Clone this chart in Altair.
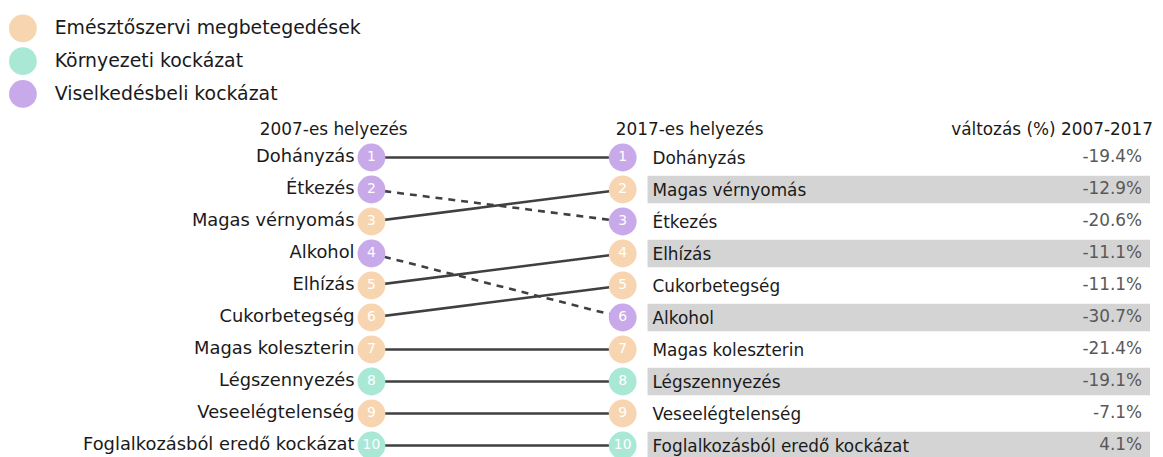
import altair as alt
import pandas as pd

# ---- data ----
risks = ["Dohányzás", "Étkezés", "Magas vérnyomás", "Alkohol", "Elhízás",
         "Cukorbetegség", "Magas koleszterin", "Légszennyezés",
         "Veseelégtelenség", "Foglalkozásból eredő kockázat"]
rank_2007 = [1, 2, 3, 4, 5, 6, 7, 8, 9, 10]
rank_2017 = [1, 3, 2, 6, 4, 5, 7, 8, 9, 10]
groups = ["Viselkedésbeli kockázat", "Viselkedésbeli kockázat", "Emésztőszervi megbetegedések",
          "Viselkedésbeli kockázat", "Emésztőszervi megbetegedések", "Emésztőszervi megbetegedések",
          "Emésztőszervi megbetegedések", "Környezeti kockázat", "Emésztőszervi megbetegedések",
          "Környezeti kockázat"]
change_pct = [-19.4, -20.6, -12.9, -30.7, -11.1, -11.1, -21.4, -19.1, -7.1, 4.1]

group_names = ["Emésztőszervi megbetegedések", "Környezeti kockázat", "Viselkedésbeli kockázat"]
group_colors = ["#F8D5B1", "#AAE8D6", "#C8A9E9"]

header_2007 = "2007-es helyezés"
header_2017 = "2017-es helyezés"
header_change = "változás (%) 2007-2017"

# ---- tables ----
rows = []
for n, r7, r17, g, c in zip(risks, rank_2007, rank_2017, groups, change_pct):
    trend = "romlott" if r17 > r7 else "javult"
    rows.append(dict(name=n, year=2007, rank=r7, group=g, trend=trend, change=c))
    rows.append(dict(name=n, year=2017, rank=r17, group=g, trend=trend, change=c))
df = pd.DataFrame(rows)
df["change_label"] = df["change"].map(lambda v: f"{v:.1f}%")

W, H = 1155, 449
FONT = "DejaVu Sans"
TXT = "#1a1a1a"

xs = alt.Scale(domain=[2007, 2017], range=[366, 619])
ys = alt.Scale(domain=[1, 10], range=[149, 439])
X = alt.X("year:Q", scale=xs, axis=None)
Y = alt.Y("rank:Q", scale=ys, axis=None)

base = alt.Chart(df)

bands = base.transform_filter(
    (alt.datum.year == 2017) & (alt.datum.rank % 2 == 0)
).transform_calculate(
    y0="datum.rank - 0.43", y1="datum.rank + 0.43"
).mark_rect(color="#D4D4D4").encode(
    x=alt.value(644), x2=alt.value(1150),
    y=alt.Y("y0:Q", scale=ys, axis=None), y2="y1:Q"
)

lines = base.mark_line(color="#404040", strokeWidth=2.6).encode(
    x=X, y=Y, detail="name:N",
    strokeDash=alt.StrokeDash("trend:N",
                              scale=alt.Scale(domain=["javult", "romlott"],
                                              range=[[1, 0], [7, 6]]),
                              legend=None)
)

circles = base.mark_circle(size=784, opacity=1).encode(
    x=X, y=Y,
    color=alt.Color("group:N",
                    scale=alt.Scale(domain=group_names, range=group_colors),
                    legend=alt.Legend(orient="none", legendX=1, legendY=5, title=None,
                                      symbolSize=784, symbolType="circle",
                                      symbolStrokeWidth=0, symbolOpacity=1,
                                      labelFontSize=19, labelFont=FONT, labelColor=TXT,
                                      labelOffset=18, rowPadding=5, padding=0,
                                      labelLimit=400))
)

numbers = base.mark_text(color="white", font=FONT, fontSize=14, baseline="middle").encode(
    x=X, y=Y, text="rank:Q"
)

left_labels = base.transform_filter(alt.datum.year == 2007).mark_text(
    align="right", baseline="middle", dx=-17, font=FONT, fontSize=18, color=TXT
).encode(x=X, y=Y, text="name:N")

right_labels = base.transform_filter(alt.datum.year == 2017).mark_text(
    align="left", baseline="middle", dx=30, dy=2, font=FONT, fontSize=17, color=TXT
).encode(x=X, y=Y, text="name:N")

pct = base.transform_filter(alt.datum.year == 2017).mark_text(
    align="right", baseline="middle", font=FONT, fontSize=17, color="#595959"
).encode(x=alt.value(1142), y=Y, text="change_label:N")

hdr = pd.DataFrame([dict(year=2007, rank=1, label=header_2007),
                    dict(year=2017, rank=1, label=header_2017)])
hdr07 = alt.Chart(hdr).transform_filter(alt.datum.year == 2007).mark_text(
    align="center", baseline="middle", dx=-38, dy=-28, font=FONT, fontSize=17, color=TXT
).encode(x=X, y=Y, text="label:N")
hdr17 = alt.Chart(hdr).transform_filter(alt.datum.year == 2017).mark_text(
    align="left", baseline="middle", dx=-7, dy=-28, font=FONT, fontSize=17, color=TXT
).encode(x=X, y=Y, text="label:N")
hdrchg = alt.Chart(pd.DataFrame([dict(rank=1, label=header_change)])).mark_text(
    align="right", baseline="middle", dy=-28, font=FONT, fontSize=17, color=TXT
).encode(x=alt.value(1153), y=Y, text="label:N")

chart = alt.layer(
    bands, lines, circles, numbers, left_labels, right_labels, pct, hdr07, hdr17, hdrchg
).properties(
    width=W, height=H, autosize=alt.AutoSizeParams(type="none"), padding=0
).configure_view(stroke=None)

chart.save("out.html", embed_options={"renderer": "svg", "actions": False})
